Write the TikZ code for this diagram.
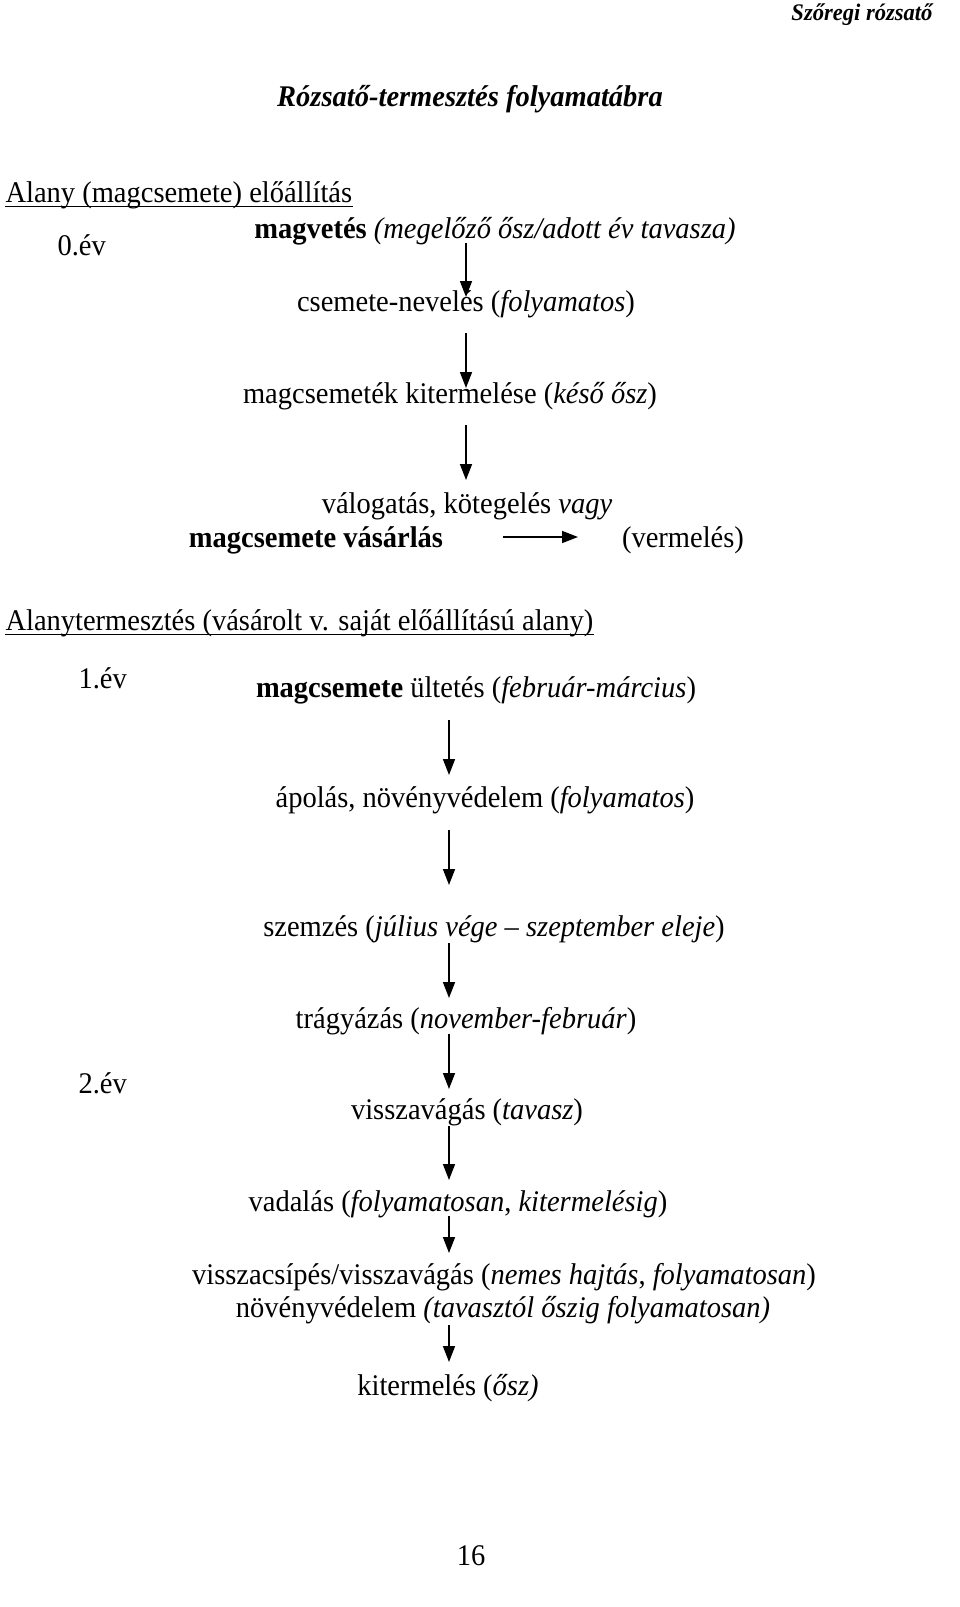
\documentclass[tikz,border=0pt]{standalone}
\usepackage{fontspec}
\setmainfont{Liberation Serif}[FakeStretch=0.95]
\usetikzlibrary{arrows.meta}
\begin{document}
\begin{tikzpicture}[x=0.4pt,y=-0.4pt,
  txt/.style={inner sep=0pt,anchor=base,font=\fontsize{12}{14}\selectfont},
  lefttxt/.style={inner sep=0pt,anchor=base west,font=\fontsize{12}{14}\selectfont},
  arr/.style={line width=0.65pt,-{Triangle[length=6.4pt,width=4.8pt]}},
  uline/.style={line width=0.5pt}]
\useasboundingbox[fill=white] (0,0) rectangle (960,1607);
% header and title
\node[inner sep=0pt,anchor=base east,font=\fontsize{9.5}{11}\selectfont\bfseries\itshape] (hdr) at (933,20) {Szőregi rózsatő};
\node[txt,font=\fontsize{12}{14}\selectfont\bfseries\itshape] (title) at (470,106) {Rózsatő-termesztés folyamatábra};
% section 1
\node[lefttxt] (sec1) at (5,202) {Alany (magcsemete) előállítás};
\draw[uline] ([yshift=-1.8pt]sec1.base west) -- ([yshift=-1.8pt]sec1.base east);
\node[lefttxt] (ev0) at (57,255) {0.év};
\node[txt] (magvetes) at (495,238) {\textbf{magvetés} \textit{(megelőző ősz/adott év tavasza)}};
\node[txt] (nev) at (466,311) {csemete-nevelés (\textit{folyamatos})};
\node[txt] (kiterm1) at (450,403) {magcsemeték kitermelése (\textit{késő ősz})};
\node[txt] (valog) at (467,513) {válogatás, kötegelés \textit{vagy}};
\node[txt,font=\fontsize{12}{14}\selectfont\bfseries] (vasar) at (316,547) {magcsemete vásárlás};
\node[txt] (verm) at (683,547) {(vermelés)};
\coordinate (a1s) at (466,243); \coordinate (a1e) at (466,297);
\coordinate (a2s) at (466,333); \coordinate (a2e) at (466,388);
\coordinate (a3s) at (466,425); \coordinate (a3e) at (466,480);
\draw[arr] (a1s) -- (a1e);
\draw[arr] (a2s) -- (a2e);
\draw[arr] (a3s) -- (a3e);
\coordinate (hs) at (503,537); \coordinate (he) at (578,537);
\draw[arr] (hs) -- (he);
% section 2
\node[lefttxt] (sec2) at (5,630) {Alanytermesztés (vásárolt v. saját előállítású alany)};
\draw[uline] ([yshift=-1.8pt]sec2.base west) -- ([yshift=-1.8pt]sec2.base east);
\node[lefttxt] (ev1) at (78,688) {1.év};
\node[txt] (ultet) at (476,697) {\textbf{magcsemete} ültetés (\textit{február-március})};
\node[txt] (apolas) at (485,807) {ápolás, növényvédelem (\textit{folyamatos})};
\node[txt] (szemzes) at (494,936) {szemzés (\textit{július vége – szeptember eleje})};
\node[txt] (tragy) at (466,1028) {trágyázás (\textit{november-február})};
\node[lefttxt] (ev2) at (78,1093) {2.év};
\node[txt] (vissza) at (467,1119) {visszavágás (\textit{tavasz})};
\node[txt] (vadal) at (458,1211) {vadalás (\textit{folyamatosan}, \textit{kitermelésig})};
\node[txt] (csip) at (504,1284) {visszacsípés/visszavágás (\textit{nemes hajtás}, \textit{folyamatosan})};
\node[txt] (novv) at (503,1317) {növényvédelem \textit{(tavasztól őszig folyamatosan)}};
\node[txt] (kiterm2) at (448,1395) {kitermelés (\textit{ősz)}};
\coordinate (b1s) at (449,720); \coordinate (b1e) at (449,775);
\coordinate (b2s) at (449,830); \coordinate (b2e) at (449,885);
\coordinate (b3s) at (449,943); \coordinate (b3e) at (449,998);
\coordinate (b4s) at (449,1034); \coordinate (b4e) at (449,1089);
\coordinate (b5s) at (449,1126); \coordinate (b5e) at (449,1180);
\coordinate (b6s) at (449,1216); \coordinate (b6e) at (449,1253);
\coordinate (b7s) at (449,1325); \coordinate (b7e) at (449,1362);
\draw[arr] (b1s) -- (b1e);
\draw[arr] (b2s) -- (b2e);
\draw[arr] (b3s) -- (b3e);
\draw[arr] (b4s) -- (b4e);
\draw[arr] (b5s) -- (b5e);
\draw[arr] (b6s) -- (b6e);
\draw[arr] (b7s) -- (b7e);
\node[txt] (page) at (471,1565) {16};
\end{tikzpicture}
\end{document}
